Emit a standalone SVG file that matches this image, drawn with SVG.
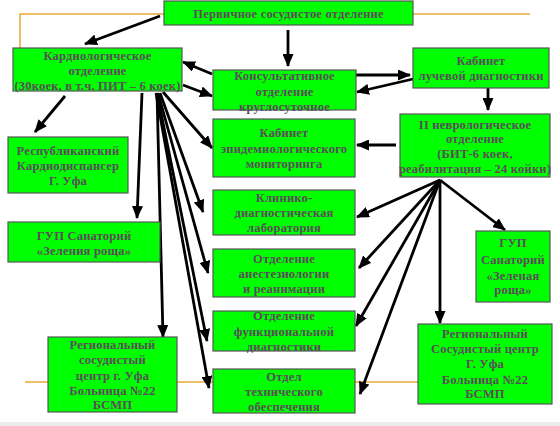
<svg xmlns="http://www.w3.org/2000/svg" width="560" height="426" viewBox="0 0 560 426">
<style>
.box{fill:#00ff00;stroke:#555;stroke-width:1.2}
.t{font-family:"Liberation Serif","Times New Roman",serif;font-weight:bold;font-size:12.5px;letter-spacing:0.2px;fill:#5a4d5a;text-anchor:middle;dominant-baseline:central}
.c{stroke:#000;stroke-width:2.8;fill:none;marker-end:url(#ah)}
.o{stroke:#e6a832;stroke-width:1.5;fill:none}
</style>
<defs>
<marker id="ah" markerUnits="userSpaceOnUse" markerWidth="13" markerHeight="11" refX="12" refY="5.5" orient="auto">
<path d="M0,0 L13,5.5 L0,11 z" fill="#000"/>
</marker>
</defs>
<rect x="0" y="0" width="560" height="426" fill="#fff"/>
<rect x="0" y="422" width="560" height="4" fill="#ececec"/>
<g id="guides">
<polyline class="o" points="164,14 20,14 20,48"/>
<line class="o" x1="413" y1="14" x2="530" y2="14"/>
<line class="o" x1="25" y1="382" x2="418" y2="382"/>
</g>
<g id="connectors">
<line class="c" x1="160" y1="16" x2="85" y2="44" stroke-width="3"/>
<line class="c" x1="288" y1="30" x2="288" y2="66" stroke-width="3"/>
<line class="c" x1="212" y1="74" x2="183" y2="62" stroke-width="3"/>
<line class="c" x1="183" y1="85" x2="212" y2="96" stroke-width="3"/>
<line class="c" x1="356" y1="75" x2="410" y2="75" stroke-width="3"/>
<line class="c" x1="413" y1="79" x2="357" y2="92" stroke-width="1.5"/>
<line class="c" x1="488" y1="88" x2="488" y2="110" stroke-width="3"/>
<line class="c" x1="396" y1="145" x2="357" y2="145" stroke-width="3"/>
<line class="c" x1="65" y1="96" x2="35" y2="132" stroke-width="3"/>
<line class="c" x1="142" y1="93" x2="137" y2="218"/>
<line class="c" x1="157" y1="93" x2="163" y2="337"/>
<line class="c" x1="163" y1="92" x2="212" y2="148"/>
<line class="c" x1="160" y1="93" x2="203" y2="212"/>
<line class="c" x1="158" y1="93" x2="208" y2="273"/>
<line class="c" x1="157" y1="93" x2="207" y2="341"/>
<line class="c" x1="156" y1="93" x2="209" y2="388"/>
<line class="c" x1="440" y1="180" x2="357" y2="217"/>
<line class="c" x1="440" y1="180" x2="505" y2="230"/>
<line class="c" x1="440" y1="180" x2="359" y2="268"/>
<line class="c" x1="440" y1="180" x2="356" y2="326"/>
<line class="c" x1="440" y1="180" x2="360" y2="394"/>
<line class="c" x1="440" y1="180" x2="440" y2="323"/>
</g>
<g id="n-primary">
<rect class="box" x="164" y="1" width="249" height="24"/>
<text class="t" x="288.5" y="14">Первичное сосудистое отделение</text>
</g>
<g id="n-cardio">
<rect class="box" x="13" y="48" width="169" height="43"/>
<text class="t" x="97.5" y="56">Кардиологическое</text>
<text class="t" x="97.5" y="71">отделение</text>
<text class="t" x="97.5" y="86">(30коек, в т.ч. ПИТ – 6 коек)</text>
</g>
<g id="n-consult">
<rect class="box" x="213" y="70" width="143" height="40"/>
<text class="t" x="284.5" y="76">Консультативное</text>
<text class="t" x="284.5" y="92">отделение</text>
<text class="t" x="284.5" y="107">круглосуточное</text>
</g>
<g id="n-ray">
<rect class="box" x="413" y="48" width="136" height="40"/>
<text class="t" x="481" y="61">Кабинет</text>
<text class="t" x="481" y="76">лучевой диагностики</text>
</g>
<g id="n-rep">
<rect class="box" x="8" y="137" width="120" height="56"/>
<text class="t" x="68" y="151">Республиканский</text>
<text class="t" x="68" y="166">Кардиодиспансер</text>
<text class="t" x="68" y="181">Г. Уфа</text>
</g>
<g id="n-epid">
<rect class="box" x="213" y="119" width="142" height="58"/>
<text class="t" x="284" y="133">Кабинет</text>
<text class="t" x="284" y="149">эпидемиологического</text>
<text class="t" x="284" y="164">мониторинга</text>
</g>
<g id="n-neuro">
<rect class="box" x="400" y="114" width="150" height="63"/>
<text class="t" x="475" y="125">II неврологическое</text>
<text class="t" x="475" y="139">отделение</text>
<text class="t" x="475" y="154">(БИТ-6 коек,</text>
<text class="t" x="475" y="169">реабилитация – 24 койки)</text>
</g>
<g id="n-lab">
<rect class="box" x="213" y="190" width="142" height="45"/>
<text class="t" x="284" y="198">Клинико-</text>
<text class="t" x="284" y="213">диагностическая</text>
<text class="t" x="284" y="228">лаборатория</text>
</g>
<g id="n-san-left">
<rect class="box" x="8" y="222" width="152" height="40"/>
<text class="t" x="84" y="236">ГУП Санаторий</text>
<text class="t" x="84" y="251">«Зеления роща»</text>
</g>
<g id="n-anest">
<rect class="box" x="213" y="249" width="142" height="48"/>
<text class="t" x="284" y="259">Отделение</text>
<text class="t" x="284" y="274">анестезиологии</text>
<text class="t" x="284" y="289">и реанимации</text>
</g>
<g id="n-san-right">
<rect class="box" x="476" y="231" width="74" height="71"/>
<text class="t" x="513" y="243">ГУП</text>
<text class="t" x="513" y="260">Санаторий</text>
<text class="t" x="513" y="276">«Зеленая</text>
<text class="t" x="513" y="290">роща»</text>
</g>
<g id="n-func">
<rect class="box" x="213" y="311" width="142" height="40"/>
<text class="t" x="284" y="316">Отделение</text>
<text class="t" x="284" y="332">функциональной</text>
<text class="t" x="284" y="347">диагностики</text>
</g>
<g id="n-reg-left">
<rect class="box" x="48" y="337" width="129" height="75"/>
<text class="t" x="112.5" y="345">Региональный</text>
<text class="t" x="112.5" y="360">сосудистый</text>
<text class="t" x="112.5" y="376">центр г. Уфа</text>
<text class="t" x="112.5" y="391">Больница №22</text>
<text class="t" x="112.5" y="405">БСМП</text>
</g>
<g id="n-tech">
<rect class="box" x="213" y="369" width="142" height="44"/>
<text class="t" x="284" y="377">Отдел</text>
<text class="t" x="284" y="392">технического</text>
<text class="t" x="284" y="407">обеспечения</text>
</g>
<g id="n-reg-right">
<rect class="box" x="418" y="324" width="134" height="80"/>
<text class="t" x="485" y="334">Региональный</text>
<text class="t" x="485" y="349">Сосудистый центр</text>
<text class="t" x="485" y="364">Г. Уфа</text>
<text class="t" x="485" y="380">Больница №22</text>
<text class="t" x="485" y="394">БСМП</text>
</g>
</svg>
